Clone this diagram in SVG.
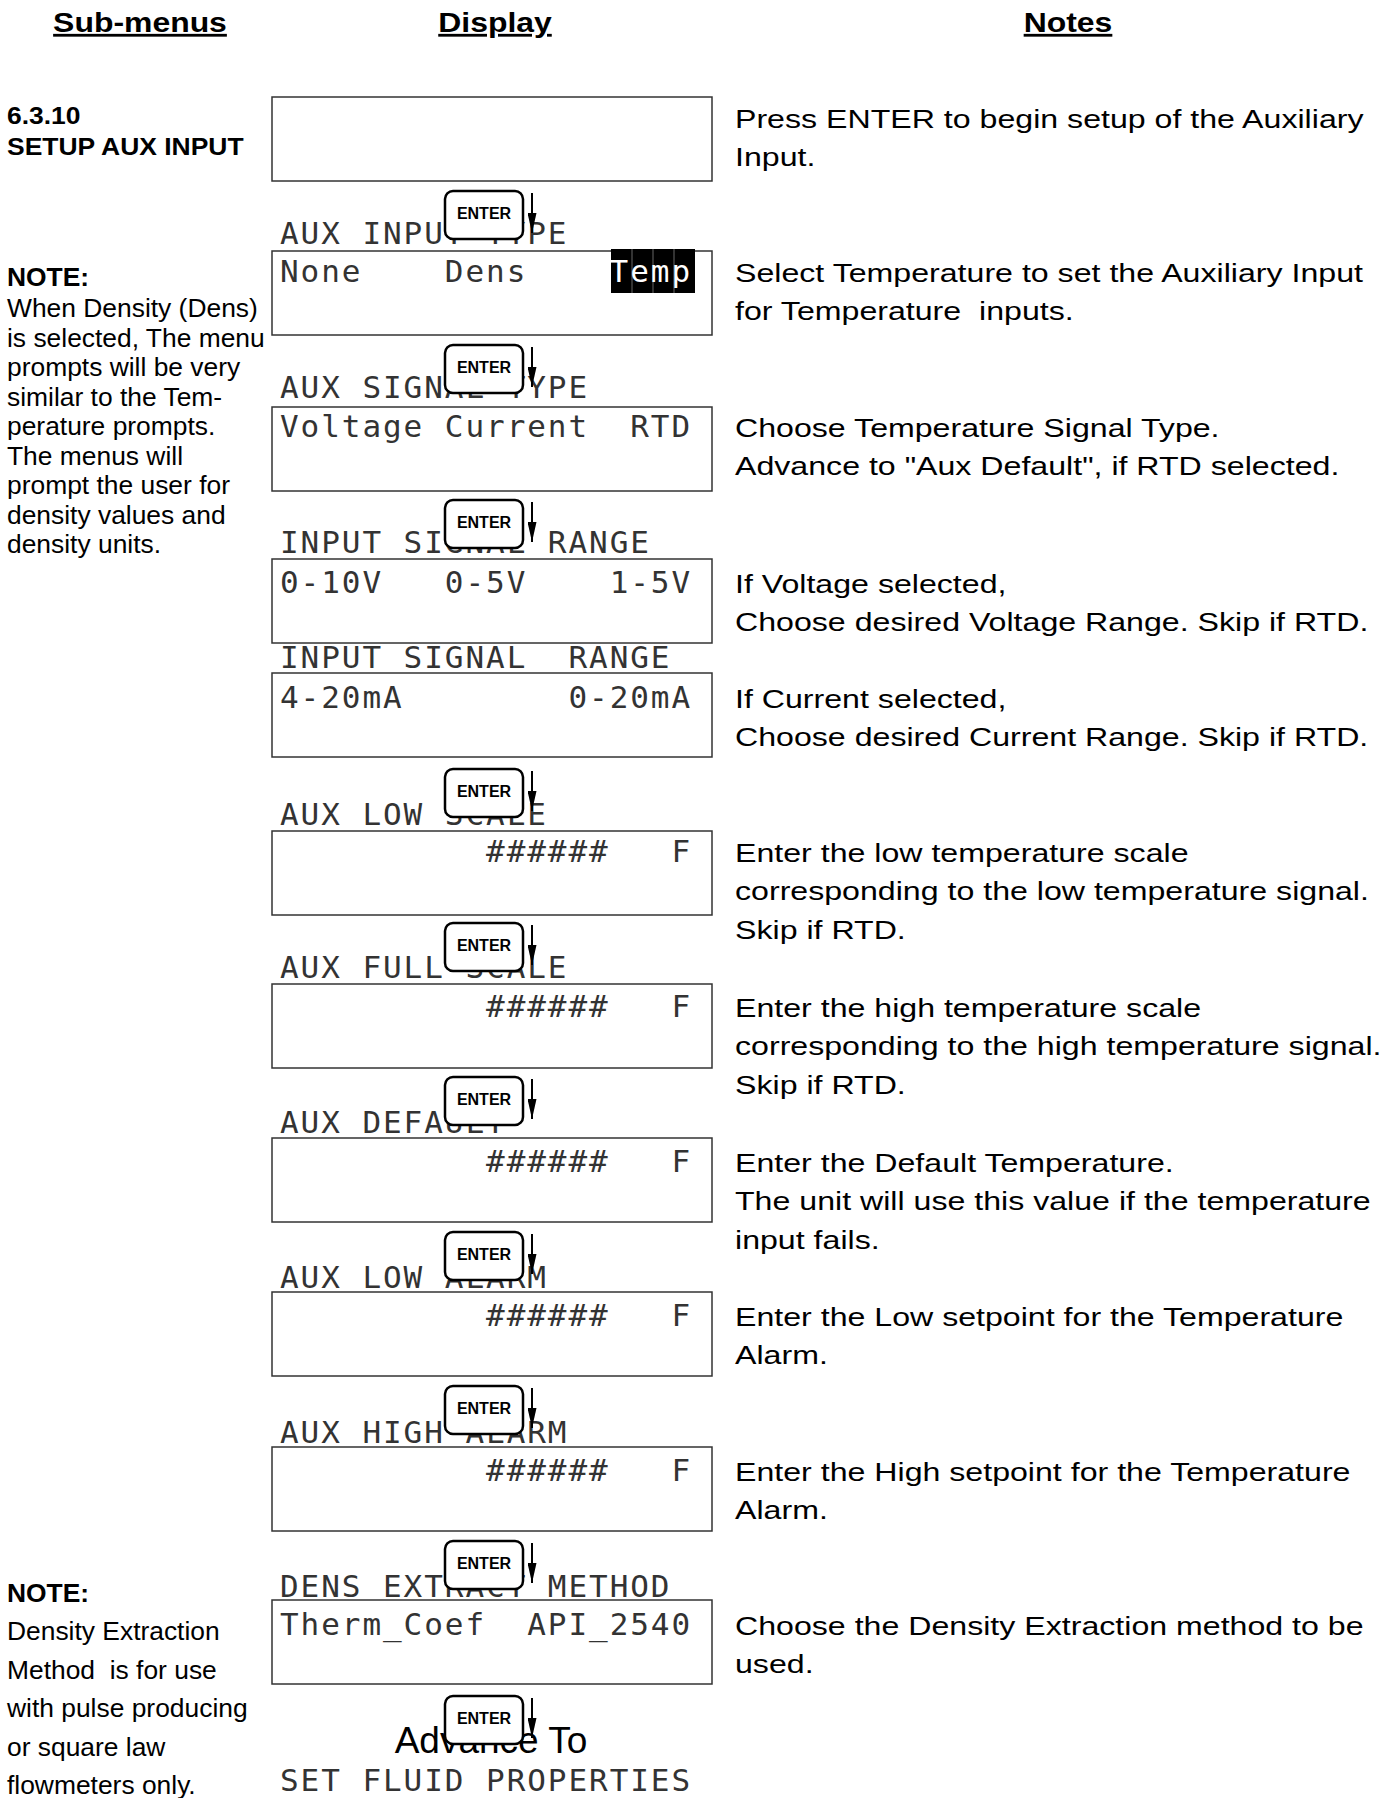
<svg xmlns="http://www.w3.org/2000/svg" width="1390" height="1798" viewBox="0 0 1390 1798">
<style>
  .hdr { font-family: "Liberation Sans", Arial, sans-serif; font-weight: bold; font-size: 28px; text-anchor: middle; text-decoration: underline; fill: #000; }
  .side { font-family: "Liberation Sans", Arial, sans-serif; font-size: 26.4px; fill: #000; white-space: pre; }
  .title { font-family: "Liberation Sans", Arial, sans-serif; font-size: 24.5px; font-weight: bold; fill: #000; }
  .b { font-weight: bold; }
  .note { font-family: "Liberation Sans", Arial, sans-serif; font-size: 25.5px; fill: #000; white-space: pre; }
  .lcd { font-family: "DejaVu Sans Mono", "Liberation Mono", monospace; font-size: 31px; letter-spacing: 1.94px; fill: #333; white-space: pre; }
  .inv { fill: #fff; }
  .box { fill: #fff; stroke: #333; stroke-width: 1.5; }
  .btn rect { fill: #fff; stroke: #000; stroke-width: 2.5; }
  .btn text { font-family: "Liberation Sans", Arial, sans-serif; font-weight: bold; font-size: 16px; text-anchor: middle; fill: #000; }
  .adv { font-family: "Liberation Sans", Arial, sans-serif; font-size: 37px; text-anchor: middle; fill: #000; }
  .arrow { stroke: #000; stroke-width: 2; fill: none; marker-end: url(#ah); }
</style>
<defs>
  <marker id="ah" viewBox="0 0 20 9" refX="20" refY="4.5" markerWidth="20" markerHeight="9" markerUnits="userSpaceOnUse" orient="auto">
    <path d="M0,0 L20,4.5 L0,9 z" fill="#000"/>
  </marker>
</defs>
<rect width="1390" height="1798" fill="#fff"/>

<!-- Headers -->
<g id="headers">
  <g transform="translate(140 0) scale(1.14 1)"><text class="hdr" x="0" y="32">Sub-menus</text></g>
  <g transform="translate(495 0) scale(1.14 1)"><text class="hdr" x="0" y="32">Display</text></g>
  <g transform="translate(1068 0) scale(1.14 1)"><text class="hdr" x="0" y="32">Notes</text></g>
</g>

<!-- Left column -->
<g id="submenu-title" transform="translate(7 0) scale(1.08 1)">
  <text class="title" x="0" y="124">6.3.10</text>
  <text class="title" x="0" y="155">SETUP AUX INPUT</text>
</g>
<g id="note-density">
  <text class="side b" x="7" y="286">NOTE:</text>
  <text class="side" x="7" y="317">When Density (Dens)</text>
  <text class="side" x="7" y="347">is selected, The menu</text>
  <text class="side" x="7" y="376">prompts will be very</text>
  <text class="side" x="7" y="406">similar to the Tem-</text>
  <text class="side" x="7" y="435">perature prompts.</text>
  <text class="side" x="7" y="465">The menus will</text>
  <text class="side" x="7" y="494">prompt the user for</text>
  <text class="side" x="7" y="524">density values and</text>
  <text class="side" x="7" y="553">density units.</text>
</g>
<g id="note-extraction">
  <text class="side b" x="7" y="1602">NOTE:</text>
  <text class="side" x="7" y="1640">Density Extraction</text>
  <text class="side" x="7" y="1679" xml:space="preserve">Method  is for use</text>
  <text class="side" x="7" y="1717">with pulse producing</text>
  <text class="side" x="7" y="1756">or square law</text>
  <text class="side" x="7" y="1794">flowmeters only.</text>
</g>

<!-- Display steps -->
<g id="step-setup">
  <rect class="box" x="272" y="97" width="440" height="84"/>
</g>
<g id="step-aux-input-type">
  <text class="lcd" x="280" y="244">AUX INPUT TYPE</text>
  <rect class="box" x="272" y="251" width="440" height="84"/>
  <text class="lcd" x="280" y="282" xml:space="preserve">None    Dens</text>
  <rect x="611" y="249" width="84" height="44" fill="#000"/>
  <line x1="632" y1="249" x2="632" y2="293" stroke="#666" stroke-width="1"/>
  <line x1="653" y1="249" x2="653" y2="293" stroke="#666" stroke-width="1"/>
  <line x1="674" y1="249" x2="674" y2="293" stroke="#666" stroke-width="1"/>
  <text class="lcd inv" x="609.6" y="282">Temp</text>
</g>
<g id="step-aux-signal-type">
  <text class="lcd" x="280" y="398">AUX SIGNAL TYPE</text>
  <rect class="box" x="272" y="407" width="440" height="84"/>
  <text class="lcd" x="280" y="437" xml:space="preserve">Voltage Current  RTD</text>
</g>
<g id="step-voltage-range">
  <text class="lcd" x="280" y="553">INPUT SIGNAL RANGE</text>
  <rect class="box" x="272" y="559" width="440" height="84"/>
  <text class="lcd" x="280" y="593" xml:space="preserve">0-10V   0-5V    1-5V</text>
</g>
<g id="step-current-range">
  <text class="lcd" x="280" y="668" xml:space="preserve">INPUT SIGNAL  RANGE</text>
  <rect class="box" x="272" y="673" width="440" height="84"/>
  <text class="lcd" x="280" y="708" xml:space="preserve">4-20mA        0-20mA</text>
</g>
<g id="step-aux-low-scale">
  <text class="lcd" x="280" y="825">AUX LOW SCALE</text>
  <rect class="box" x="272" y="831" width="440" height="84"/>
  <text class="lcd" x="280" y="862" xml:space="preserve">          ######   F</text>
</g>
<g id="step-aux-full-scale">
  <text class="lcd" x="280" y="978">AUX FULL SCALE</text>
  <rect class="box" x="272" y="984" width="440" height="84"/>
  <text class="lcd" x="280" y="1017" xml:space="preserve">          ######   F</text>
</g>
<g id="step-aux-default">
  <text class="lcd" x="280" y="1133">AUX DEFAULT</text>
  <rect class="box" x="272" y="1138" width="440" height="84"/>
  <text class="lcd" x="280" y="1172" xml:space="preserve">          ######   F</text>
</g>
<g id="step-aux-low-alarm">
  <text class="lcd" x="280" y="1288">AUX LOW ALARM</text>
  <rect class="box" x="272" y="1292" width="440" height="84"/>
  <text class="lcd" x="280" y="1326" xml:space="preserve">          ######   F</text>
</g>
<g id="step-aux-high-alarm">
  <text class="lcd" x="280" y="1443">AUX HIGH ALARM</text>
  <rect class="box" x="272" y="1447" width="440" height="84"/>
  <text class="lcd" x="280" y="1481" xml:space="preserve">          ######   F</text>
</g>
<g id="step-dens-extract">
  <text class="lcd" x="280" y="1597">DENS EXTRACT METHOD</text>
  <rect class="box" x="272" y="1600" width="440" height="84"/>
  <text class="lcd" x="280" y="1635" xml:space="preserve">Therm_Coef  API_2540</text>
</g>
<g id="step-advance">
  <text class="adv" x="491" y="1753">Advance To</text>
  <text class="lcd" x="280" y="1791">SET FLUID PROPERTIES</text>
</g>

<!-- ENTER buttons -->
<g class="btn" id="enter-1" transform="translate(445 191)"><rect width="78" height="48" rx="8"/><text x="39" y="28">ENTER</text></g>
<g class="btn" id="enter-2" transform="translate(445 345)"><rect width="78" height="48" rx="8"/><text x="39" y="28">ENTER</text></g>
<g class="btn" id="enter-3" transform="translate(445 500)"><rect width="78" height="48" rx="8"/><text x="39" y="28">ENTER</text></g>
<g class="btn" id="enter-4" transform="translate(445 769)"><rect width="78" height="48" rx="8"/><text x="39" y="28">ENTER</text></g>
<g class="btn" id="enter-5" transform="translate(445 923)"><rect width="78" height="48" rx="8"/><text x="39" y="28">ENTER</text></g>
<g class="btn" id="enter-6" transform="translate(445 1077)"><rect width="78" height="48" rx="8"/><text x="39" y="28">ENTER</text></g>
<g class="btn" id="enter-7" transform="translate(445 1232)"><rect width="78" height="48" rx="8"/><text x="39" y="28">ENTER</text></g>
<g class="btn" id="enter-8" transform="translate(445 1386)"><rect width="78" height="48" rx="8"/><text x="39" y="28">ENTER</text></g>
<g class="btn" id="enter-9" transform="translate(445 1541)"><rect width="78" height="48" rx="8"/><text x="39" y="28">ENTER</text></g>
<g class="btn" id="enter-10" transform="translate(445 1696)"><rect width="78" height="48" rx="8"/><text x="39" y="28">ENTER</text></g>

<!-- Connectors -->
<g id="connectors">
  <line class="arrow" x1="532" y1="193" x2="532" y2="233"/>
  <line class="arrow" x1="532" y1="347" x2="532" y2="387"/>
  <line class="arrow" x1="532" y1="502" x2="532" y2="542"/>
  <line class="arrow" x1="532" y1="771" x2="532" y2="811"/>
  <line class="arrow" x1="532" y1="925" x2="532" y2="965"/>
  <line class="arrow" x1="532" y1="1079" x2="532" y2="1119"/>
  <line class="arrow" x1="532" y1="1234" x2="532" y2="1274"/>
  <line class="arrow" x1="532" y1="1388" x2="532" y2="1428"/>
  <line class="arrow" x1="532" y1="1543" x2="532" y2="1583"/>
  <line class="arrow" x1="532" y1="1698" x2="532" y2="1738"/>
</g>

<!-- Notes column -->
<g id="notes" transform="translate(735 0) scale(1.26 1)">
  <text class="note" x="0" y="128">Press ENTER to begin setup of the Auxiliary</text>
  <text class="note" x="0" y="166.5">Input.</text>
  <text class="note" x="0" y="282">Select Temperature to set the Auxiliary Input</text>
  <text class="note" x="0" y="320.5" xml:space="preserve">for Temperature  inputs.</text>
  <text class="note" x="0" y="437">Choose Temperature Signal Type.</text>
  <text class="note" x="0" y="475.5">Advance to "Aux Default", if RTD selected.</text>
  <text class="note" x="0" y="593">If Voltage selected,</text>
  <text class="note" x="0" y="631.5">Choose desired Voltage Range. Skip if RTD.</text>
  <text class="note" x="0" y="708">If Current selected,</text>
  <text class="note" x="0" y="746.5">Choose desired Current Range. Skip if RTD.</text>
  <text class="note" x="0" y="862">Enter the low temperature scale</text>
  <text class="note" x="0" y="900.5">corresponding to the low temperature signal.</text>
  <text class="note" x="0" y="939">Skip if RTD.</text>
  <text class="note" x="0" y="1017">Enter the high temperature scale</text>
  <text class="note" x="0" y="1055.5">corresponding to the high temperature signal.</text>
  <text class="note" x="0" y="1094">Skip if RTD.</text>
  <text class="note" x="0" y="1172">Enter the Default Temperature.</text>
  <text class="note" x="0" y="1210.5">The unit will use this value if the temperature</text>
  <text class="note" x="0" y="1249">input fails.</text>
  <text class="note" x="0" y="1326">Enter the Low setpoint for the Temperature</text>
  <text class="note" x="0" y="1364.5">Alarm.</text>
  <text class="note" x="0" y="1481">Enter the High setpoint for the Temperature</text>
  <text class="note" x="0" y="1519.5">Alarm.</text>
  <text class="note" x="0" y="1635">Choose the Density Extraction method to be</text>
  <text class="note" x="0" y="1673.5">used.</text>
</g>
</svg>
